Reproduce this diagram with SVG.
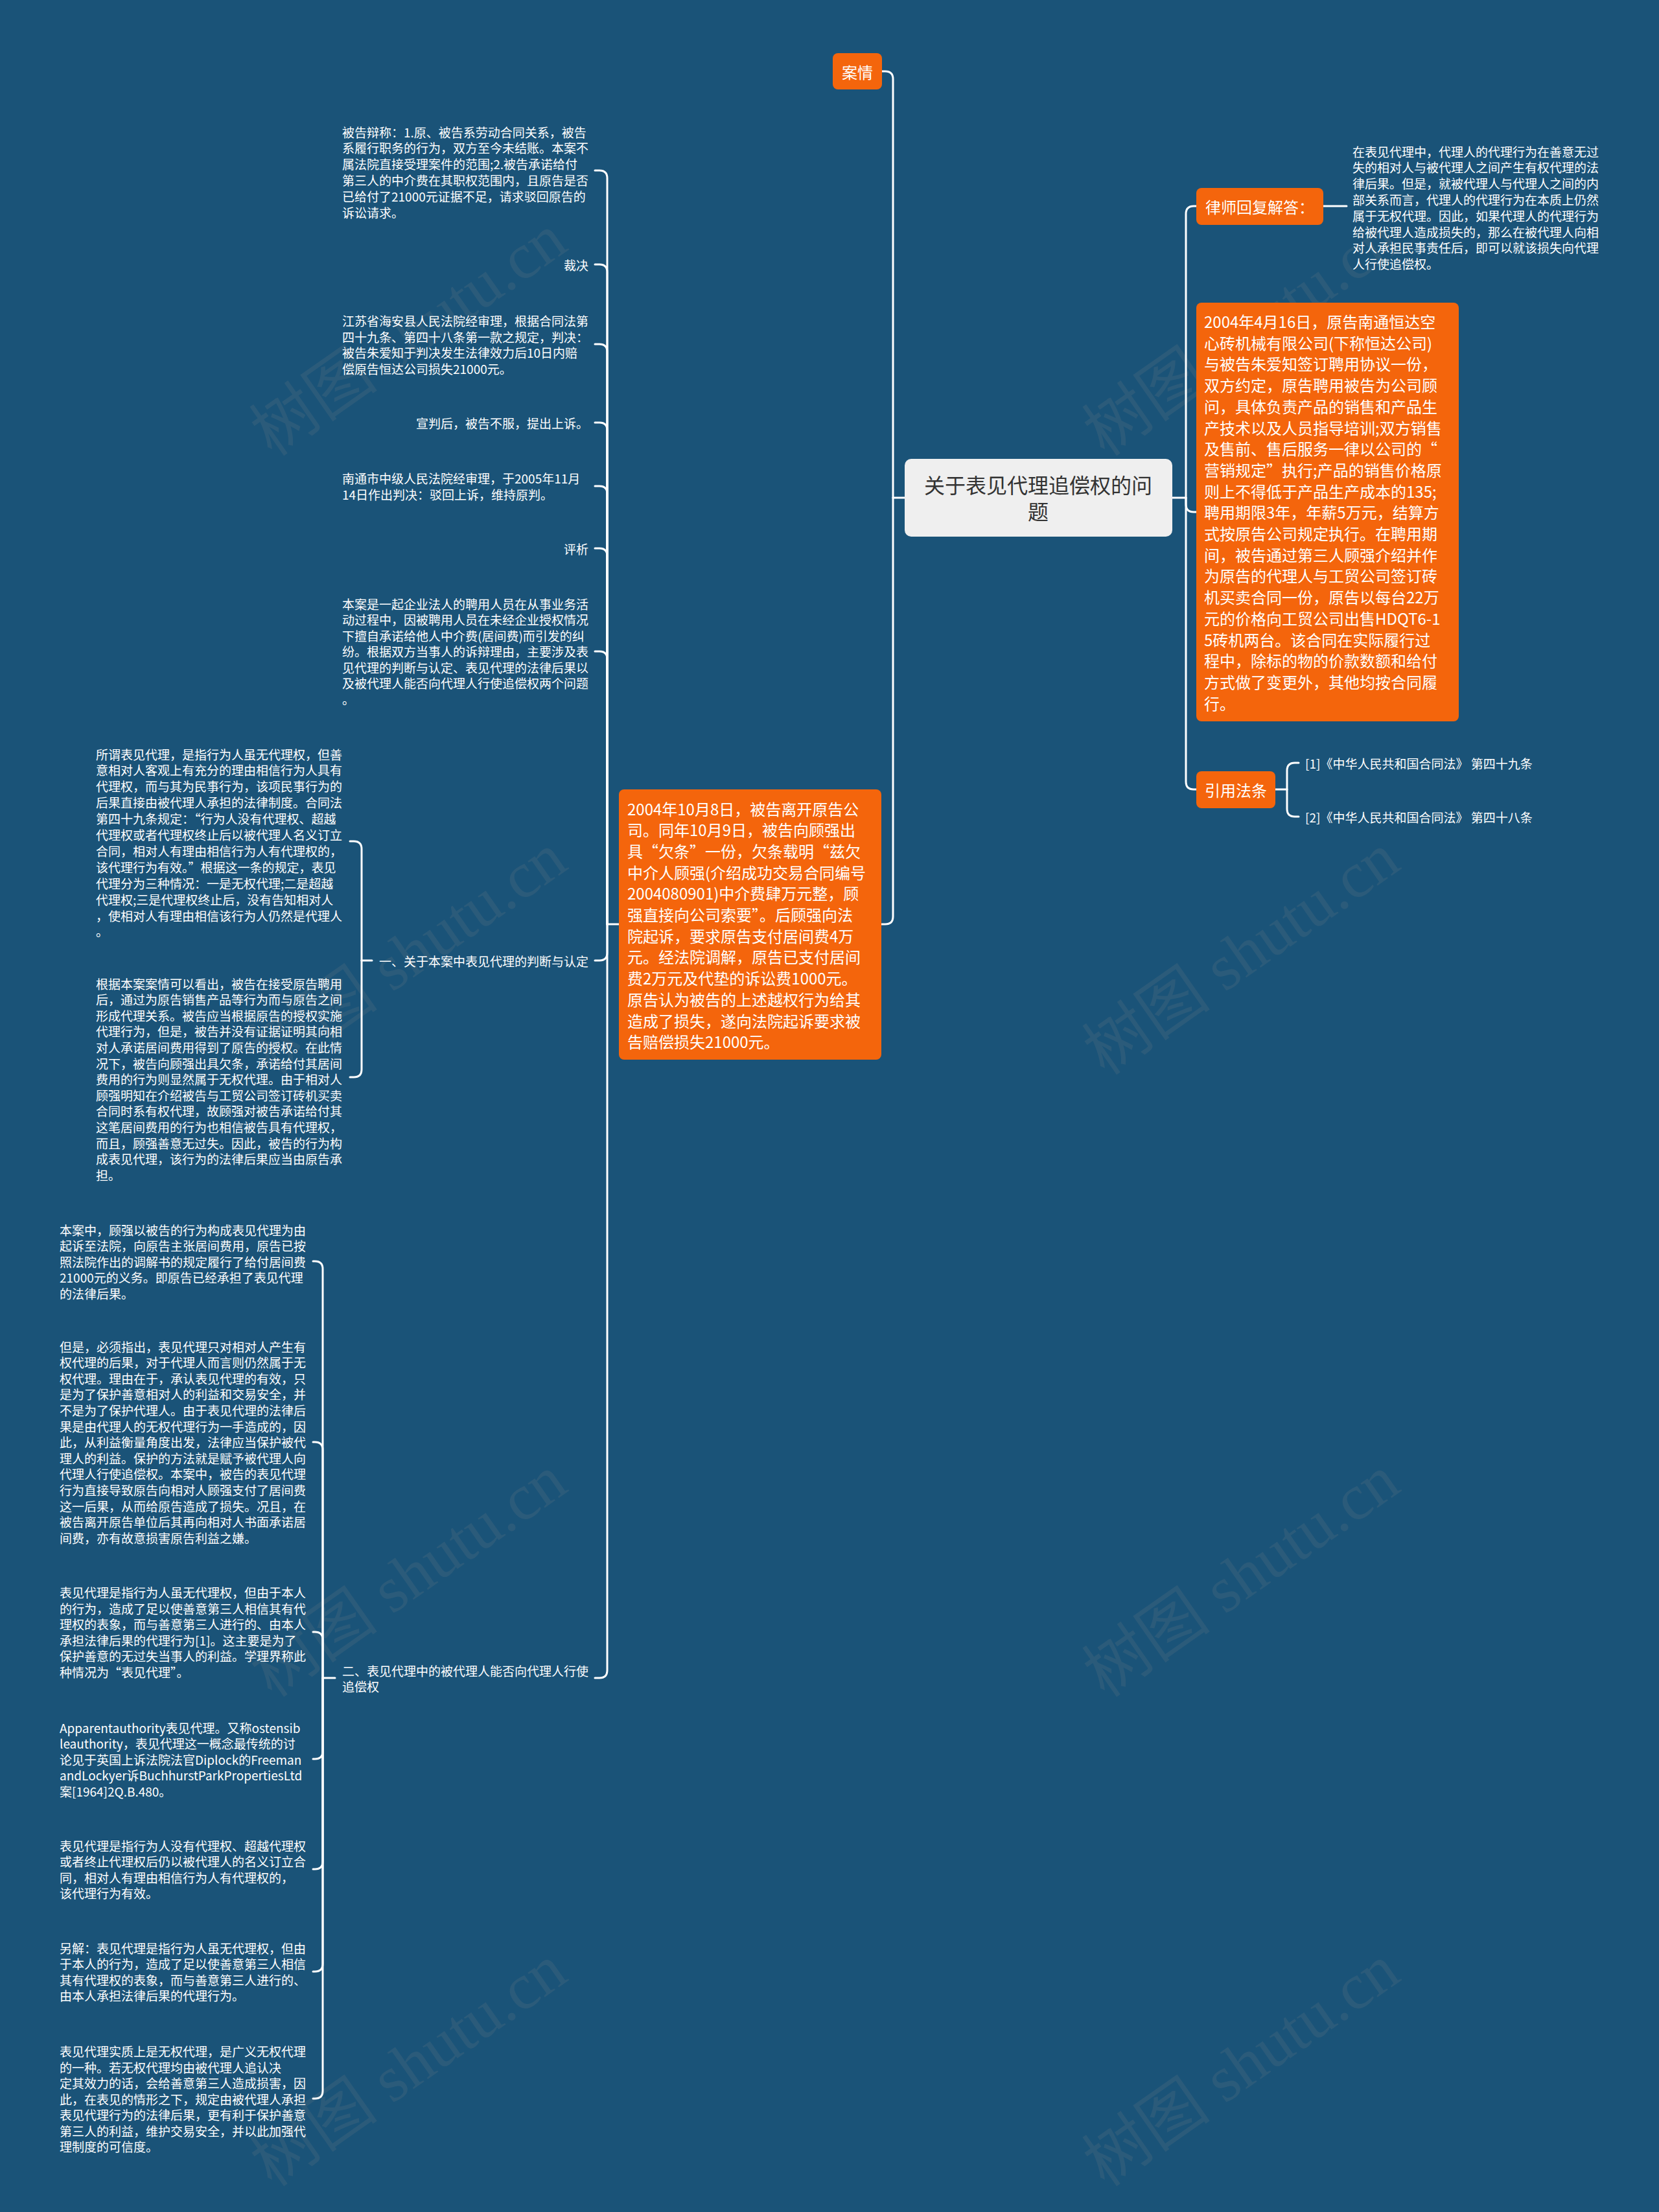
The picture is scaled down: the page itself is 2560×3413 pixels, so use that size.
<svg xmlns="http://www.w3.org/2000/svg" width="2560" height="3413" viewBox="0 0 2560 3413">
<style>
.c{fill:none;stroke:#ffffff;stroke-width:3;stroke-linecap:round}
.t{font-family:"Noto Sans CJK SC","Noto Sans",sans-serif;fill:#ffffff;dominant-baseline:central}
.s{font-size:19px}
.m{font-size:24px}
.r{font-size:32px;fill:#333333}
.ob{fill:#f4650c}
.wm{font-family:"Liberation Serif","Noto Sans CJK SC",serif;font-size:100px;fill:#8a8a8a;opacity:0.15}
.e{text-anchor:end}
.mid{text-anchor:middle}
</style>
<rect width="2560" height="3413" fill="#1a5378"/>
<g id="watermarks">
<text class="wm" transform="translate(650,545) rotate(-35)" text-anchor="middle">树图 shutu.cn</text>
<text class="wm" transform="translate(1935,545) rotate(-35)" text-anchor="middle">树图 shutu.cn</text>
<text class="wm" transform="translate(650,1500) rotate(-35)" text-anchor="middle">树图 shutu.cn</text>
<text class="wm" transform="translate(1935,1500) rotate(-35)" text-anchor="middle">树图 shutu.cn</text>
<text class="wm" transform="translate(650,2460) rotate(-35)" text-anchor="middle">树图 shutu.cn</text>
<text class="wm" transform="translate(1935,2460) rotate(-35)" text-anchor="middle">树图 shutu.cn</text>
<text class="wm" transform="translate(650,3215) rotate(-35)" text-anchor="middle">树图 shutu.cn</text>
<text class="wm" transform="translate(1935,3215) rotate(-35)" text-anchor="middle">树图 shutu.cn</text>
</g>
<g id="connectors">
<path class="c" d="M1809 768 H1830"/>
<path class="c" d="M1830 768 V330 Q1830 318 1842 318 H1846"/>
<path class="c" d="M1830 768 V778 Q1830 790 1842 790 H1846"/>
<path class="c" d="M1830 768 V1206 Q1830 1218 1842 1218 H1846"/>
<path class="c" d="M2042 318 H2078"/>
<path class="c" d="M1968 1218 H1986"/>
<path class="c" d="M1986 1218 V1189 Q1986 1177 1998 1177 H2004"/>
<path class="c" d="M1986 1218 V1248 Q1986 1260 1998 1260 H2004"/>
<path class="c" d="M1396 768 H1378"/>
<path class="c" d="M1378 768 V122 Q1378 110 1366 110 H1361"/>
<path class="c" d="M1378 768 V1414 Q1378 1426 1366 1426 H1360"/>
<path class="c" d="M955 1426 H937"/>
<path class="c" d="M937 1426 V275 Q937 263 925 263 H918"/>
<path class="c" d="M937 1426 V420 Q937 408 925 408 H918"/>
<path class="c" d="M937 1426 V543 Q937 531 925 531 H918"/>
<path class="c" d="M937 1426 V664 Q937 652 925 652 H918"/>
<path class="c" d="M937 1426 V762 Q937 750 925 750 H918"/>
<path class="c" d="M937 1426 V858 Q937 846 925 846 H918"/>
<path class="c" d="M937 1426 V1017 Q937 1005 925 1005 H918"/>
<path class="c" d="M937 1426 V1470 Q937 1482 925 1482 H918"/>
<path class="c" d="M937 1426 V2577 Q937 2589 925 2589 H918"/>
<path class="c" d="M574 1482 H558"/>
<path class="c" d="M558 1482 V1310 Q558 1298 546 1298 H540"/>
<path class="c" d="M558 1482 V1650 Q558 1662 546 1662 H540"/>
<path class="c" d="M517 2589 H498"/>
<path class="c" d="M498 2589 V1958 Q498 1946 486 1946 H483"/>
<path class="c" d="M498 2589 V2237 Q498 2225 486 2225 H483"/>
<path class="c" d="M498 2589 V2530 Q498 2518 486 2518 H483"/>
<path class="c" d="M498 2589 V2702 Q498 2714 486 2714 H483"/>
<path class="c" d="M498 2589 V2872 Q498 2884 486 2884 H483"/>
<path class="c" d="M498 2589 V3030 Q498 3042 486 3042 H483"/>
<path class="c" d="M498 2589 V3226 Q498 3238 486 3238 H483"/>
</g>
<g id="root">
<rect x="1396" y="708" width="413" height="120" rx="10" fill="#efefef"/>
<text class="t r mid" x="1602" y="747">关于表见代理追偿权的问</text>
<text class="t r mid" x="1602" y="788">题</text>
</g>
<g id="n-anqing">
<rect class="ob" x="1285" y="82" width="76" height="56" rx="8"/>
<text class="t m mid" x="1323" y="110">案情</text>
</g>
<g id="n-lawyer">
<rect class="ob" x="1846" y="290" width="196" height="57" rx="8"/>
<text class="t m" x="1860" y="318.5">律师回复解答：</text>
</g>
<g id="n-lawyer-text">
<text class="t s" x="2087" y="233">在表见代理中，代理人的代理行为在善意无过</text>
<text class="t s" x="2087" y="257.8">失的相对人与被代理人之间产生有权代理的法</text>
<text class="t s" x="2087" y="282.6">律后果。但是，就被代理人与代理人之间的内</text>
<text class="t s" x="2087" y="307.4">部关系而言，代理人的代理行为在本质上仍然</text>
<text class="t s" x="2087" y="332.2">属于无权代理。因此，如果代理人的代理行为</text>
<text class="t s" x="2087" y="357">给被代理人造成损失的，那么在被代理人向相</text>
<text class="t s" x="2087" y="381.8">对人承担民事责任后，即可以就该损失向代理</text>
<text class="t s" x="2087" y="406.6">人行使追偿权。</text>
</g>
<g id="n-case-right">
<rect class="ob" x="1846" y="467" width="405" height="646" rx="8"/>
<text class="t m" x="1858" y="495.5">2004年4月16日，原告南通恒达空</text>
<text class="t m" x="1858" y="528.2">心砖机械有限公司(下称恒达公司)</text>
<text class="t m" x="1858" y="560.9">与被告朱爱知签订聘用协议一份，</text>
<text class="t m" x="1858" y="593.6">双方约定，原告聘用被告为公司顾</text>
<text class="t m" x="1858" y="626.3">问，具体负责产品的销售和产品生</text>
<text class="t m" x="1858" y="659">产技术以及人员指导培训;双方销售</text>
<text class="t m" x="1858" y="691.7">及售前、售后服务一律以公司的“</text>
<text class="t m" x="1858" y="724.4">营销规定”执行;产品的销售价格原</text>
<text class="t m" x="1858" y="757.1">则上不得低于产品生产成本的135;</text>
<text class="t m" x="1858" y="789.8">聘用期限3年，年薪5万元，结算方</text>
<text class="t m" x="1858" y="822.5">式按原告公司规定执行。在聘用期</text>
<text class="t m" x="1858" y="855.2">间，被告通过第三人顾强介绍并作</text>
<text class="t m" x="1858" y="887.9">为原告的代理人与工贸公司签订砖</text>
<text class="t m" x="1858" y="920.6">机买卖合同一份，原告以每台22万</text>
<text class="t m" x="1858" y="953.3">元的价格向工贸公司出售HDQT6-1</text>
<text class="t m" x="1858" y="986">5砖机两台。该合同在实际履行过</text>
<text class="t m" x="1858" y="1018.7">程中，除标的物的价款数额和给付</text>
<text class="t m" x="1858" y="1051.4">方式做了变更外，其他均按合同履</text>
<text class="t m" x="1858" y="1084.1">行。</text>
</g>
<g id="n-cite">
<rect class="ob" x="1846" y="1190" width="122" height="57" rx="8"/>
<text class="t m mid" x="1907" y="1218.5">引用法条</text>
</g>
<g id="n-cite-1"><text class="t s" x="2014" y="1177">[1]《中华人民共和国合同法》 第四十九条</text></g>
<g id="n-cite-2"><text class="t s" x="2014" y="1260">[2]《中华人民共和国合同法》 第四十八条</text></g>
<g id="n-case-left">
<rect class="ob" x="955" y="1218" width="405" height="417" rx="8"/>
<text class="t m" x="968" y="1247">2004年10月8日，被告离开原告公</text>
<text class="t m" x="968" y="1279.7">司。同年10月9日，被告向顾强出</text>
<text class="t m" x="968" y="1312.4">具“欠条”一份，欠条载明“兹欠</text>
<text class="t m" x="968" y="1345.1">中介人顾强(介绍成功交易合同编号</text>
<text class="t m" x="968" y="1377.8">2004080901)中介费肆万元整，顾</text>
<text class="t m" x="968" y="1410.5">强直接向公司索要”。后顾强向法</text>
<text class="t m" x="968" y="1443.2">院起诉，要求原告支付居间费4万</text>
<text class="t m" x="968" y="1475.9">元。经法院调解，原告已支付居间</text>
<text class="t m" x="968" y="1508.6">费2万元及代垫的诉讼费1000元。</text>
<text class="t m" x="968" y="1541.3">原告认为被告的上述越权行为给其</text>
<text class="t m" x="968" y="1574">造成了损失，遂向法院起诉要求被</text>
<text class="t m" x="968" y="1606.7">告赔偿损失21000元。</text>
</g>
<g id="n-defense">
<text class="t s" x="528" y="203">被告辩称：1.原、被告系劳动合同关系，被告</text>
<text class="t s" x="528" y="227.8">系履行职务的行为，双方至今未结账。本案不</text>
<text class="t s" x="528" y="252.6">属法院直接受理案件的范围;2.被告承诺给付</text>
<text class="t s" x="528" y="277.4">第三人的中介费在其职权范围内，且原告是否</text>
<text class="t s" x="528" y="302.2">已给付了21000元证据不足，请求驳回原告的</text>
<text class="t s" x="528" y="327">诉讼请求。</text>
</g>
<g id="n-ruling"><text class="t s e" x="908" y="408">裁决</text></g>
<g id="n-judgment">
<text class="t s" x="528" y="494.5">江苏省海安县人民法院经审理，根据合同法第</text>
<text class="t s" x="528" y="519">四十九条、第四十八条第一款之规定，判决：</text>
<text class="t s" x="528" y="543.5">被告朱爱知于判决发生法律效力后10日内赔</text>
<text class="t s" x="528" y="568">偿原告恒达公司损失21000元。</text>
</g>
<g id="n-appeal"><text class="t s e" x="908" y="652">宣判后，被告不服，提出上诉。</text></g>
<g id="n-second">
<text class="t s" x="528" y="737.5">南通市中级人民法院经审理，于2005年11月</text>
<text class="t s" x="528" y="762">14日作出判决：驳回上诉，维持原判。</text>
</g>
<g id="n-analysis"><text class="t s e" x="908" y="846">评析</text></g>
<g id="n-summary">
<text class="t s" x="528" y="931">本案是一起企业法人的聘用人员在从事业务活</text>
<text class="t s" x="528" y="955.5">动过程中，因被聘用人员在未经企业授权情况</text>
<text class="t s" x="528" y="980">下擅自承诺给他人中介费(居间费)而引发的纠</text>
<text class="t s" x="528" y="1004.5">纷。根据双方当事人的诉辩理由，主要涉及表</text>
<text class="t s" x="528" y="1029">见代理的判断与认定、表见代理的法律后果以</text>
<text class="t s" x="528" y="1053.5">及被代理人能否向代理人行使追偿权两个问题</text>
<text class="t s" x="528" y="1078">。</text>
</g>
<g id="n-part1"><text class="t s e" x="908" y="1482">一、关于本案中表见代理的判断与认定</text></g>
<g id="n-part1-a">
<text class="t s" x="148" y="1163">所谓表见代理，是指行为人虽无代理权，但善</text>
<text class="t s" x="148" y="1187.9">意相对人客观上有充分的理由相信行为人具有</text>
<text class="t s" x="148" y="1212.8">代理权，而与其为民事行为，该项民事行为的</text>
<text class="t s" x="148" y="1237.7">后果直接由被代理人承担的法律制度。合同法</text>
<text class="t s" x="148" y="1262.6">第四十九条规定：“行为人没有代理权、超越</text>
<text class="t s" x="148" y="1287.5">代理权或者代理权终止后以被代理人名义订立</text>
<text class="t s" x="148" y="1312.4">合同，相对人有理由相信行为人有代理权的，</text>
<text class="t s" x="148" y="1337.3">该代理行为有效。”根据这一条的规定，表见</text>
<text class="t s" x="148" y="1362.2">代理分为三种情况：一是无权代理;二是超越</text>
<text class="t s" x="148" y="1387.1">代理权;三是代理权终止后，没有告知相对人</text>
<text class="t s" x="148" y="1412">，使相对人有理由相信该行为人仍然是代理人</text>
<text class="t s" x="148" y="1436.9">。</text>
</g>
<g id="n-part1-b">
<text class="t s" x="148" y="1517">根据本案案情可以看出，被告在接受原告聘用</text>
<text class="t s" x="148" y="1541.6">后，通过为原告销售产品等行为而与原告之间</text>
<text class="t s" x="148" y="1566.2">形成代理关系。被告应当根据原告的授权实施</text>
<text class="t s" x="148" y="1590.8">代理行为，但是，被告并没有证据证明其向相</text>
<text class="t s" x="148" y="1615.4">对人承诺居间费用得到了原告的授权。在此情</text>
<text class="t s" x="148" y="1640">况下，被告向顾强出具欠条，承诺给付其居间</text>
<text class="t s" x="148" y="1664.6">费用的行为则显然属于无权代理。由于相对人</text>
<text class="t s" x="148" y="1689.2">顾强明知在介绍被告与工贸公司签订砖机买卖</text>
<text class="t s" x="148" y="1713.8">合同时系有权代理，故顾强对被告承诺给付其</text>
<text class="t s" x="148" y="1738.4">这笔居间费用的行为也相信被告具有代理权，</text>
<text class="t s" x="148" y="1763">而且，顾强善意无过失。因此，被告的行为构</text>
<text class="t s" x="148" y="1787.6">成表见代理，该行为的法律后果应当由原告承</text>
<text class="t s" x="148" y="1812.2">担。</text>
</g>
<g id="n-part2">
<text class="t s" x="528" y="2577">二、表见代理中的被代理人能否向代理人行使</text>
<text class="t s" x="528" y="2601">追偿权</text>
</g>
<g id="n-part2-a">
<text class="t s" x="92" y="1897">本案中，顾强以被告的行为构成表见代理为由</text>
<text class="t s" x="92" y="1921.5">起诉至法院，向原告主张居间费用，原告已按</text>
<text class="t s" x="92" y="1946">照法院作出的调解书的规定履行了给付居间费</text>
<text class="t s" x="92" y="1970.5">21000元的义务。即原告已经承担了表见代理</text>
<text class="t s" x="92" y="1995">的法律后果。</text>
</g>
<g id="n-part2-b">
<text class="t s" x="92" y="2077">但是，必须指出，表见代理只对相对人产生有</text>
<text class="t s" x="92" y="2101.6">权代理的后果，对于代理人而言则仍然属于无</text>
<text class="t s" x="92" y="2126.2">权代理。理由在于，承认表见代理的有效，只</text>
<text class="t s" x="92" y="2150.8">是为了保护善意相对人的利益和交易安全，并</text>
<text class="t s" x="92" y="2175.4">不是为了保护代理人。由于表见代理的法律后</text>
<text class="t s" x="92" y="2200">果是由代理人的无权代理行为一手造成的，因</text>
<text class="t s" x="92" y="2224.6">此，从利益衡量角度出发，法律应当保护被代</text>
<text class="t s" x="92" y="2249.2">理人的利益。保护的方法就是赋予被代理人向</text>
<text class="t s" x="92" y="2273.8">代理人行使追偿权。本案中，被告的表见代理</text>
<text class="t s" x="92" y="2298.4">行为直接导致原告向相对人顾强支付了居间费</text>
<text class="t s" x="92" y="2323">这一后果，从而给原告造成了损失。况且，在</text>
<text class="t s" x="92" y="2347.6">被告离开原告单位后其再向相对人书面承诺居</text>
<text class="t s" x="92" y="2372.2">间费，亦有故意损害原告利益之嫌。</text>
</g>
<g id="n-part2-c">
<text class="t s" x="92" y="2456.8">表见代理是指行为人虽无代理权，但由于本人</text>
<text class="t s" x="92" y="2481.3">的行为，造成了足以使善意第三人相信其有代</text>
<text class="t s" x="92" y="2505.8">理权的表象，而与善意第三人进行的、由本人</text>
<text class="t s" x="92" y="2530.3">承担法律后果的代理行为[1]。这主要是为了</text>
<text class="t s" x="92" y="2554.8">保护善意的无过失当事人的利益。学理界称此</text>
<text class="t s" x="92" y="2579.3">种情况为“表见代理”。</text>
</g>
<g id="n-part2-d">
<text class="t s" x="92" y="2665">Apparentauthority表见代理。又称ostensib</text>
<text class="t s" x="92" y="2689.5">leauthority，表见代理这一概念最传统的讨</text>
<text class="t s" x="92" y="2714">论见于英国上诉法院法官Diplock的Freeman</text>
<text class="t s" x="92" y="2738.5">andLockyer诉BuchhurstParkPropertiesLtd</text>
<text class="t s" x="92" y="2763">案[1964]2Q.B.480。</text>
</g>
<g id="n-part2-e">
<text class="t s" x="92" y="2847">表见代理是指行为人没有代理权、超越代理权</text>
<text class="t s" x="92" y="2871.5">或者终止代理权后仍以被代理人的名义订立合</text>
<text class="t s" x="92" y="2896">同，相对人有理由相信行为人有代理权的，</text>
<text class="t s" x="92" y="2920.5">该代理行为有效。</text>
</g>
<g id="n-part2-f">
<text class="t s" x="92" y="3005">另解：表见代理是指行为人虽无代理权，但由</text>
<text class="t s" x="92" y="3029.5">于本人的行为，造成了足以使善意第三人相信</text>
<text class="t s" x="92" y="3054">其有代理权的表象，而与善意第三人进行的、</text>
<text class="t s" x="92" y="3078.5">由本人承担法律后果的代理行为。</text>
</g>
<g id="n-part2-g">
<text class="t s" x="92" y="3164.5">表见代理实质上是无权代理，是广义无权代理</text>
<text class="t s" x="92" y="3189">的一种。若无权代理均由被代理人追认决</text>
<text class="t s" x="92" y="3213.5">定其效力的话，会给善意第三人造成损害，因</text>
<text class="t s" x="92" y="3238">此，在表见的情形之下，规定由被代理人承担</text>
<text class="t s" x="92" y="3262.5">表见代理行为的法律后果，更有利于保护善意</text>
<text class="t s" x="92" y="3287">第三人的利益，维护交易安全，并以此加强代</text>
<text class="t s" x="92" y="3311.5">理制度的可信度。</text>
</g>
</svg>
